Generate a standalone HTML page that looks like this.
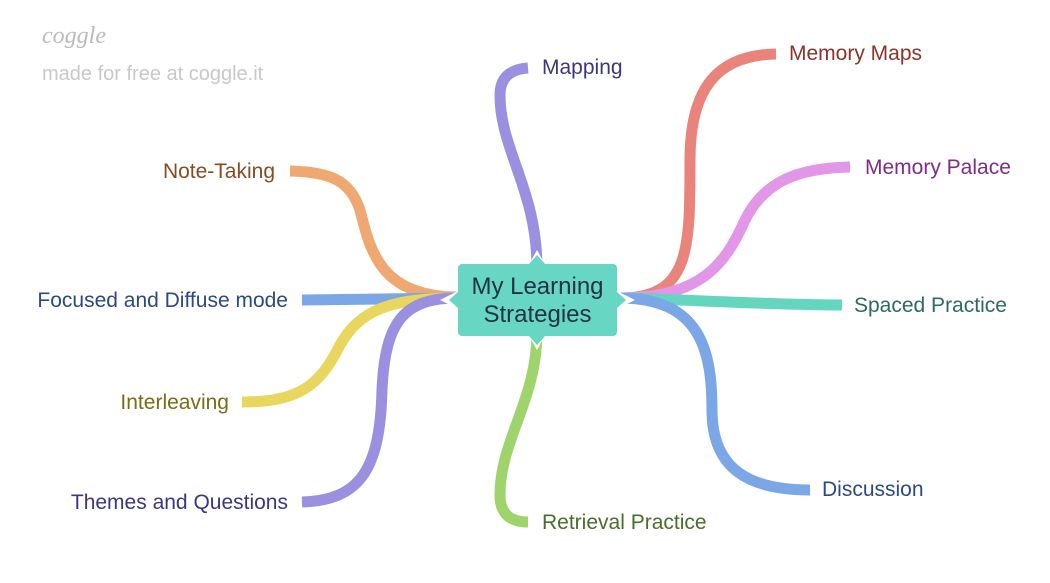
<!DOCTYPE html>
<html><head><style>
body{margin:0;background:#fff;width:1050px;height:583px;overflow:hidden;position:relative;font-family:"Liberation Sans",sans-serif}
.t{position:absolute;font-size:21px;white-space:nowrap}
.r{text-align:right}
</style></head><body>
<svg width="1050" height="583" style="position:absolute;left:0;top:0" fill="none" stroke-width="11">
<path d="M537,268 C537,190 500,150 500,95 Q500,70 528,68" stroke="#9b8fe0"/>
<path d="M537,332 C537,400 500,440 500,495 Q500,522 528,522" stroke="#9fd46c"/>
<path d="M620,298 C690,298 690,250 690,160 C690,85 720,55 776,54" stroke="#e8847c"/>
<path d="M620,298 C700,298 725,265 745,220 C765,180 800,168 850,167" stroke="#e196e8"/>
<path d="M620,298 C700,300 770,305 842,305" stroke="#63d6bd"/>
<path d="M620,298 C700,298 712,350 712,410 C712,470 750,490 810,490" stroke="#7ba7e6"/>
<path d="M458,297 C380,297 370,250 360,210 C350,180 330,172 290,171" stroke="#f0a872"/>
<path d="M458,298 L302,300" stroke="#7ba7e6"/>
<path d="M458,298 C390,298 360,310 340,345 C320,385 300,402 242,402" stroke="#e8d65e"/>
<path d="M458,298 C405,298 385,320 382,390 C380,470 360,500 302,502" stroke="#9b8fe0"/>
<path d="M537,250 L527,268 L547,268 Z M537,350 L527,332 L547,332 Z M440,300 L460,290 L460,310 Z M635,300 L615,290 L615,310 Z" fill="#fff" stroke="none"/>
<rect x="458" y="264" width="159" height="72" rx="4" fill="#67d7c3" stroke="none"/>
<path d="M528,265 L537,255 L546,265 Z M528,335 L537,345 L546,335 Z M459,291 L449,300 L459,309 Z M616,291 L626,300 L616,309 Z" fill="#67d7c3" stroke="none"/>
</svg>
<div class="t" style="left:42px;top:23px;font-size:24px;color:#bbb;font-style:italic;font-family:'Liberation Serif',serif">coggle</div>
<div class="t" style="left:42px;top:63px;font-size:20px;color:#c8c8c8">made for free at coggle.it</div>
<div class="t" style="left:448px;top:273px;width:179px;text-align:center;font-size:24px;line-height:28px;color:#234">My Learning<br>Strategies</div>
<div class="t" style="left:542px;top:56px;color:#3d3580">Mapping</div>
<div class="t" style="left:542px;top:511px;color:#4a6d2a">Retrieval Practice</div>
<div class="t" style="left:789px;top:42px;color:#8a3328">Memory Maps</div>
<div class="t" style="left:865px;top:156px;color:#7c2d86">Memory Palace</div>
<div class="t" style="left:854px;top:294px;color:#2c6b5d">Spaced Practice</div>
<div class="t" style="left:822px;top:478px;color:#2c4a80">Discussion</div>
<div class="t r" style="right:775px;top:160px;color:#874b22">Note-Taking</div>
<div class="t r" style="right:762px;top:289px;color:#2c4a80">Focused and Diffuse mode</div>
<div class="t r" style="right:821px;top:391px;color:#7a6b16">Interleaving</div>
<div class="t r" style="right:762px;top:491px;color:#3d3580">Themes and Questions</div>
</body></html>
